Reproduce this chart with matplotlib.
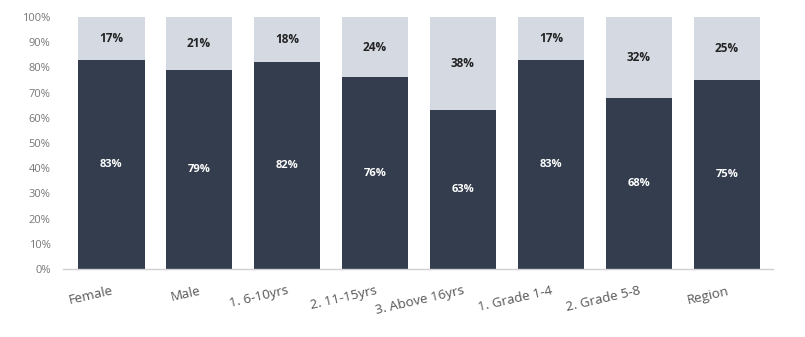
import matplotlib
matplotlib.use("Agg")
import matplotlib.pyplot as plt
from matplotlib.ticker import PercentFormatter

categories = ["Female", "Male", "1. 6-10yrs", "2. 11-15yrs", "3. Above 16yrs",
              "1. Grade 1-4", "2. Grade 5-8", "Region"]
lower = [83, 79, 82, 76, 63, 83, 68, 75]
upper = [17, 21, 18, 24, 38, 17, 32, 25]

dark = "#333d4e"
light = "#d5d9e2"

plt.rcParams["font.family"] = ["Open Sans", "DejaVu Sans"]

fig = plt.figure(figsize=(8.05, 3.37), dpi=100)
ax = fig.add_axes([0.0783, 0.2018, 0.882, 0.7478])

x = list(range(len(categories)))
w = 0.76
ax.bar(x, lower, width=w, color=dark, zorder=2)
top_heights = [100 - v for v in lower]
ax.bar(x, top_heights, width=w, bottom=lower, color=light, zorder=2)

for xi, lo, up in zip(x, lower, upper):
    ax.text(xi, lo / 2, f"{lo}%", ha="center", va="center", color="white",
            fontsize=8, fontweight="bold")
    ax.text(xi, lo + (100 - lo) / 2, f"{up}%", ha="center", va="center",
            color="#222222", fontsize=8.5, fontweight="bold")

ax.set_ylim(0, 100)
ax.set_xlim(-0.546, 7.524)
ax.set_yticks(range(0, 101, 10))
ax.yaxis.set_major_formatter(PercentFormatter(decimals=0))
ax.set_xticks(x)
ax.set_xticklabels(categories, rotation=13, ha="right", rotation_mode="anchor")
ax.tick_params(axis="x", length=0, pad=11, labelsize=9.6, colors="#555555")
ax.tick_params(axis="y", length=0, pad=9, labelsize=8, colors="#777777")

for s in ["top", "right", "left"]:
    ax.spines[s].set_visible(False)
ax.spines["bottom"].set_color("#d0d0d0")
ax.spines["bottom"].set_linewidth(1.0)

fig.savefig("out.png", dpi=100, facecolor="white")
